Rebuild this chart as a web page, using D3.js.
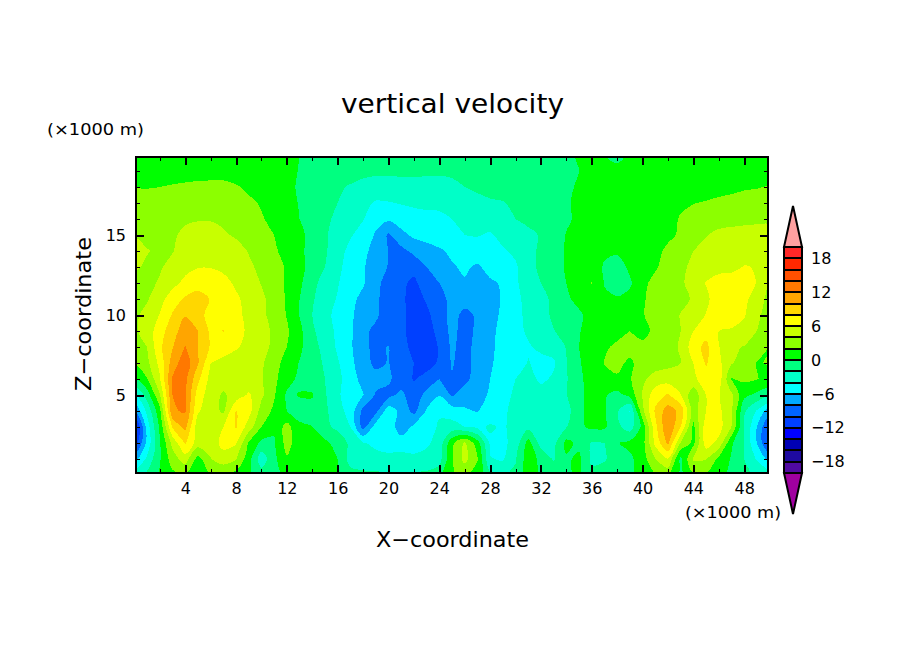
<!DOCTYPE html>
<html>
<head>
<meta charset="utf-8">
<script src="https://cdn.jsdelivr.net/npm/d3@7"></script>
<style>
  body { margin: 0; background: #fff; }
  text { font-family: "DejaVu Sans", sans-serif; fill: #000; }
</style>
</head>
<body>
<div id="chart"></div>
<script>
// w values, one list per height, x = 0..50 km
var z20 = [1,1,1,1,1,1,1,1,1,1, 1,1,.7,-.1,-.4,-.5,-.6,-.7,-.8,-.9, -1,-1,-1,-1,-1,-1,-.8,-.7,-.6,-.6, -.5,-.5,-.4,-.4,-.2,.1,.6,0,-1,.4, 1,1,1,1,1,1,1,1,1,-.3, 1];
var z19 = [1,1,1,1,1,1,1,1,1,1, 1,1,.6,-.1,-.4,-.7,-.9,-1.1,-1.4,-1.6, -1.6,-1.6,-1.6,-1.6,-1.7,-1.6,-1.2,-1,-.9,-.8, -.7,-.6,-.6,-.5,-.4,0,.5,.9,1,1, 1,1,1,1,1,1,1,1,1,1, 1];
var z18 = [1.9,1.9,2,2.2,2.4,2.6,2.7,2.7,2.2,1.6, 1.2,1,.6,-.3,-.7,-1.1,-1.7,-2.2,-2.7,-2.9, -2.9,-2.7,-2.7,-2.8,-2.7,-2.5,-2,-1.7,-1.5,-1.3, -1.1,-.9,-.8,-.6,-.3,.2,.6,1,1,1, 1,1.1,1.1,1.2,1.3,1.4,1.5,1.6,1.8,1.9, 2.1];
var z17 = [2.6,2.8,3,3.1,3.3,3.4,3.4,3.3,3,2.4, 1.8,1.2,.6,-.1,-.7,-1.3,-2,-2.6,-3.5,-4.2, -4.1,-3.9,-3.7,-3.6,-3.6,-3.4,-3,-2.5,-2.2,-2.1, -1.7,-1.4,-1.1,-.8,-.2,.4,.9,1,1,1, 1,1.1,1.3,1.8,1.95,2.1,2.3,2.5,2.7,2.8, 2.9];
var z16 = [3,3.2,3.4,3.6,3.8,3.9,3.9,3.7,3.4,2.9, 2.2,1.4,.5,0,-.7,-1.6,-2.4,-3.2,-3.9,-5.4, -5.7,-5,-4.7,-4.5,-4.4,-4,-3.6,-3.3,-3.1,-2.6, -2,-1.7,-1.4,-1,-.3,.4,.8,1,1,1, 1.1,1.3,1.6,2.1,2.6,3,3.2,3.4,3.6,3.7, 3.7];
var z15 = [3.9,3.5,3.4,3.8,4.3,4.6,4.6,4.2,3.8,3.4, 2.8,2,1,.3,-.4,-1.7,-3,-3.8,-4.8,-6.2, -8.3,-6.6,-5.6,-5.1,-4.8,-4.4,-4,-3.9,-4.2,-3.5, -3,-2.3,-1.9,-1.2,.1,.7,1,1,1,1, 1.2,1.4,1.7,2.2,3,3.9,4.5,4.6,4.6,4.6, 4.6];
var z14 = [4.6,4.1,3.7,3.9,4.9,5.3,5.4,5.2,4.6,3.9, 3.1,2.3,1.3,.3,-.5,-1.7,-3.3,-4.5,-5.5,-6.7, -8,-8.6,-7.5,-7,-6.3,-5.6,-5,-4.8,-4.5,-4.2, -3.6,-2.5,-1.7,-.8,.2,.8,1,.3,.3,.8, 1.1,1.6,2.3,3.3,4,4.6,5,5,5.1,5, 4.8];
var z13 = [4.3,3.7,3.8,4.6,5.4,5.9,5.9,5.6,5.1,4.3, 3.6,2.7,1.8,.4,-.5,-2,-3.6,-4.7,-5.8,-7, -8.1,-9.3,-9.4,-8,-7.2,-6.2,-5.7,-6.3,-5.3,-4.8, -4.3,-2.5,-1.7,-.8,.2,.8,1,-.2,-.9,.4, 1.2,1.8,2.7,3.6,4.4,5,5.3,5.5,6.1,5.9, 4.6];
var z12 = [3.2,3.5,4.2,5.4,6.5,7.2,7.3,6.6,5.7,4.9, 3.9,2.9,1.7,.4,-1.4,-2.8,-3.9,-4.8,-5.8,-7.4, -8.9,-9.6,-10.4,-9,-8,-7.2,-6.2,-6.6,-6.3,-5.8, -4.3,-3,-2,-1,0,.7,2.1,-.1,-1,-.3, 1.6,2.5,3,3.7,4.7,6.1,6.9,6.9,7.1,5.9, 4];
var z11 = [2.9,3.8,5.3,7,8.3,8.8,7.9,7.5,6.3,5.4, 4.4,3.2,1.8,0,-1.7,-3.4,-4.1,-5.5,-6.5,-7.6, -9,-9.6,-10.8,-9.8,-8.5,-7.6,-7.1,-6.9,-6.7,-5.8, -4.5,-3.4,-2.6,-1.6,-.3,.5,.9,.3,.2,.6, 1.8,2.6,3,3.5,4.2,5.6,7,7.2,6.6,4.8, 3.5];
var z10 = [3.6,4.6,6.1,8.2,9.9,8.6,7.4,7.3,6.5,5.5, 4.5,3.2,1.9,-.1,-2,-3.6,-4.4,-5.7,-6.8,-7.7, -9,-9.6,-10.6,-10.4,-9.1,-7.2,-8.6,-7.7,-6.6,-5.7, -4.6,-3.5,-2.8,-1.6,-1.1,-.3,.6,.9,1,1.3, 1.9,2.6,3,4.1,4.8,6.1,6.8,6.9,6.2,4.4, 3.2];
var z9 = [3.6,5,7,9.3,10.9,10,7.6,8.05,6.6,5.7, 4.7,3.7,2.3,.5,-1.6,-3.3,-4.3,-5.6,-7.6,-8.4, -9.1,-9.7,-10.5,-10.8,-9.4,-7.4,-8.8,-7.6,-6.4,-5.5, -4.6,-3.7,-2.9,-2.1,-1.2,-.1,.7,.9,1.3,2, 1.6,2.3,3,4,6,7.3,6,5.8,5.3,4, 3];
var z8 = [2.9,4,7.6,9.9,12.1,10,7.8,7,6.2,5.5, 4.8,3.5,2,.4,-1.2,-2.7,-4.3,-5.7,-7.5,-8.5, -7.9,-9.5,-10.4,-10.7,-9.9,-7.6,-8.9,-7.2,-6.3,-5.5, -4.8,-4.2,-3.6,-3.2,-1.9,0,.6,1.7,2.4,2.6, 2.3,2.7,3.4,4.2,7.2,8.5,6.1,4.3,3.9,3.8, 1.9];
var z7 = [2,3.5,6.6,11,13.2,10.2,6,5.4,5.1,4.9, 4.3,2.8,1.2,-.1,-1.3,-2.2,-3.8,-5.4,-7.3,-8.4, -7.9,-9.3,-10,-10.6,-9.8,-7.8,-9,-7,-6.2,-5.4, -4.9,-3.9,-4.6,-4.3,-2.1,-.1,.5,2.1,2.4,1.7, 2.7,3,3.4,4,6,8.2,6.5,4.2,3,1.9, 2.1];
var z6 = [-.6,1.9,5.8,12.2,12.5,8.5,5.3,5,4.7,4.6, 4.2,2.5,.7,-.4,-1.2,-2,-3.4,-5.2,-6.6,-7.4, -7.6,-9.2,-10.1,-9.5,-8,-8.2,-8.8,-6.7,-6,-5.1, -4,-3.3,-4.4,-3.7,-2.2,-.2,.4,1.1,1.8,1.8, 3.6,4.9,5.1,4.8,5.5,7.2,7.1,1.9,2.4,2.1, 1.3];
var z5 = [-4.8,-1,3.8,12,12.4,7,5,3.7,4.8,6.3, 4.4,2.2,-.3,.1,.2,-1.8,-3.6,-5.4,-5.9,-8.2, -8.7,-7.4,-9.5,-7.2,-6.1,-8.3,-6.7,-6.3,-5.9,-4.6, -3.7,-3.2,-3.1,-3,-2.1,-.2,.3,.2,-.6,.6, 4.2,7.2,8.2,6.1,2.6,6,6.1,4.4,.5,-.5, -1.8];
var z4 = [-8,-3.5,1.4,11.8,12.2,6.2,5,3.6,8.1,6.8, 3.2,1.6,0,-.6,-.8,-1.6,-3.2,-4.8,-8.6,-8.6, -4.8,-6.6,-8.6,-5.8,-4.2,-5,-5.8,-6.1,-5,-4.3, -3.5,-2.8,-2.7,-2.6,-3,-.2,.3,.2,-1.8,-4.1, 3.5,8.3,11,9.4,3,6,6.5,4.3,-1.7,-4.2, -7.2];
var z3 = [-13.9,-5,.4,8.2,10.6,4.8,4.1,6,8.2,5, 2,.3,2.8,.3,.05,-1.6,-2.4,-4,-8.8,-5, -4.2,-7.6,-5.5,-4.7,-3.8,-3.2,-4,-4.4,-3.8,-4.2, -3.5,-2.5,-3.8,-2.5,-2.1,-.3,.3,.3,-1.5,-3, .6,7.4,11.8,8,1.5,7.2,6.8,4,-2,-6, -10.5];
var z2 = [-11.5,-5.4,-.2,4.6,8.2,5,5,6.6,6.2,1.8, -.5,-.2,2.8,.8,.2,.5,-.8,-2.4,-3.8,-4.5, -4.8,-4.6,-4.8,-4.3,-3.3,1.5,4.3,.9,-4.3,-4.5, -3.2,.8,-2.8,-2.6,.6,-.5,-2.2,-2,-.1,.5, 1.2,6.5,10.4,3.8,1.5,7,5.4,.3,-2,-6, -10.8];
var z1 = [-7,-3.5,-.2,3,5,1.2,3.9,5.2,4.1,.8, -3.2,-.5,1.8,1,.6,.5,0,-2.8,-3.2,-3.3, -3.5,-3.5,-3.6,-3.4,-2.8,1.8,4.6,2.2,-3.9,-4.2, -2.2,1.2,-.6,-2.2,-.3,.4,-2.4,-2.2,-1,-.4, 1,4,5.9,-.5,4.3,4.1,1.5,-.2,-2,-4.2, -6.8];
var z0 = [-3,-1.5,.2,1.5,1.9,.6,1.9,1.8,1.2,.2, -1,-.6,.5,.8,.7,.5,.1,-1.2,-1.5,-1.6, -1.7,-1.7,-1.6,-1.5,-.8,1.8,2.5,1,-1.5,-2.4, -1.5,1,-.5,-1,-.2,.2,-1.5,-1,-.8,-.3, .5,1.8,2.5,-.5,1.7,1.8,.6,-.5,-1.5,-2.5, -3];

var rows = [z20,z19,z18,z17,z16,z15,z14,z13,z12,z11,z10,z9,z8,z7,z6,z5,z4,z3,z2,z1,z0];

var levels = d3.range(-20, 20, 2);
var levelColors = ['#500aa0','#1e0aa0','#0000b4','#0000ff','#0040ff','#0064ff','#00aaff','#00ffff','#00ffc8','#00ff80',
                   '#00ff00','#8cff00','#c8ff00','#ffff00','#ffd700','#ffa500','#ff7800','#ff5000','#ff2800','#ff2828'];
var belowColor = '#a000a0', aboveColor = '#ffa0a0';
var xTicks = d3.range(4, 49, 4), xMinor = d3.range(2, 50, 4);
var yTicks = [5, 10, 15], yMinor = d3.range(1, 20).filter(function(d) { return d % 5 != 0; });
var barTicks = d3.range(-18, 19, 6);

var svg = d3.select('#chart').append('svg').attr('width', 904).attr('height', 654);

var L = 136, R = 768, T = 157, B = 473;
var x = d3.scaleLinear().domain([0.125, 49.875]).range([L, R]);
var y = d3.scaleLinear().domain([0.125, 19.875]).range([B, T]);

svg.append('clipPath').attr('id', 'plot').append('rect')
    .attr('x', L).attr('y', T).attr('width', R - L).attr('height', B - T);

// filled contours, lowest level first so each one paints over the last
var nx = z0.length, ny = rows.length;
var contours = d3.contours().size([nx, ny]).thresholds(levels)(d3.merge(rows));

// rounded outlines instead of the straight grid-cell facets
var ring = d3.line()
    .x(function(p) { return x(p[0] - 0.5); })
    .y(function(p) { return y(ny - 1 - (p[1] - 0.5)); })
    .curve(d3.curveCatmullRomClosed.alpha(0.5));
function contourPath(c) {
    return c.coordinates.map(function(poly) {
        return poly.map(function(r) { return ring(r.slice(0, -1)); }).join('');
    }).join('');
}
var plotG = svg.append('g').attr('clip-path', 'url(#plot)');
plotG.append('rect').attr('x', L).attr('y', T).attr('width', R - L).attr('height', B - T).attr('fill', levelColors[9]);
plotG.selectAll('path').data(contours).join('path')
    .attr('d', contourPath)
    .attr('fill', function(d, i) { return levelColors[i]; })
    .attr('shape-rendering', 'crispEdges');

// axes, ticks point inward on all four sides
function drawAxis(axisFn, scale, tr, values, size, width, labels) {
    var g = svg.append('g').attr('transform', tr)
        .call(axisFn(scale).tickValues(values).tickSize(-size).tickPadding(10)
            .tickFormat(labels ? d3.format('d') : ''));
    g.select('.domain').remove();
    g.selectAll('line').attr('stroke', '#000').attr('stroke-width', width).attr('shape-rendering', 'crispEdges');
    g.selectAll('text').attr('font-size', 16).attr('font-family', '"DejaVu Sans"').attr('fill', '#000');
    return g;
}
var bottom = 'translate(0,' + B + ')', left = 'translate(' + L + ',0)';
drawAxis(d3.axisBottom, x, bottom, xMinor, 4, 1, false);
drawAxis(d3.axisBottom, x, bottom, xTicks, 8, 2, true);
drawAxis(d3.axisLeft, y, left, yMinor, 4, 1, false);
drawAxis(d3.axisLeft, y, left, yTicks, 8, 2, true);
drawAxis(d3.axisTop, x, 'translate(0,' + T + ')', xMinor, 4, 1, false);
drawAxis(d3.axisTop, x, 'translate(0,' + T + ')', xTicks, 8, 2, false);
drawAxis(d3.axisRight, y, 'translate(' + R + ',0)', yMinor, 4, 1, false);
drawAxis(d3.axisRight, y, 'translate(' + R + ',0)', yTicks, 8, 2, false);

svg.append('rect').attr('x', L).attr('y', T).attr('width', R - L).attr('height', B - T)
    .attr('fill', 'none').attr('stroke', '#000').attr('stroke-width', 2).attr('shape-rendering', 'crispEdges');

// colour bar with pointed ends
var barX = 784, barW = 18, tip = 41;
var bar = d3.scaleLinear().domain([-20, 20]).range([B, 247]);
var barG = svg.append('g');
barG.selectAll('rect').data(levels).join('rect')
    .attr('x', barX).attr('width', barW)
    .attr('y', function(d) { return bar(d + 2); })
    .attr('height', function(d) { return bar(d) - bar(d + 2); })
    .attr('fill', function(d, i) { return levelColors[i]; })
    .attr('stroke', '#000').attr('stroke-width', 2).attr('shape-rendering', 'crispEdges');
barG.selectAll('polygon').data([[20, -tip, aboveColor], [-20, tip, belowColor]]).join('polygon')
    .attr('points', function(d) {
        return [[barX, bar(d[0])], [barX + barW, bar(d[0])], [barX + barW / 2, bar(d[0]) + d[1]]].join(' ');
    })
    .attr('fill', function(d) { return d[2]; })
    .attr('stroke', '#000').attr('stroke-width', 2);
var barAxis = svg.append('g').attr('transform', 'translate(' + (barX + barW) + ',0)')
    .call(d3.axisRight(bar).tickValues(barTicks).tickSize(0).tickPadding(9));
barAxis.select('.domain').remove();
barAxis.selectAll('text').attr('font-size', 16).attr('font-family', '"DejaVu Sans"').attr('fill', '#000');

// titles
function label(txt, px, py, size, len, rot) {
    var t = svg.append('text').text(txt).attr('font-size', size)
        .attr('textLength', len).attr('lengthAdjust', 'spacingAndGlyphs');
    if (rot) t.attr('transform', 'translate(' + px + ',' + py + ') rotate(-90)');
    else t.attr('x', px).attr('y', py);
}
label('vertical velocity', 341, 113, 27, 223);
label('X\u2212coordinate', 376, 547, 22, 153);
label('Z\u2212coordinate', 91, 391, 22, 154, true);
label('(\u00d71000 m)', 47, 135, 15, 97);
label('(\u00d71000 m)', 685, 518, 15, 96);
</script>
</body>
</html>
